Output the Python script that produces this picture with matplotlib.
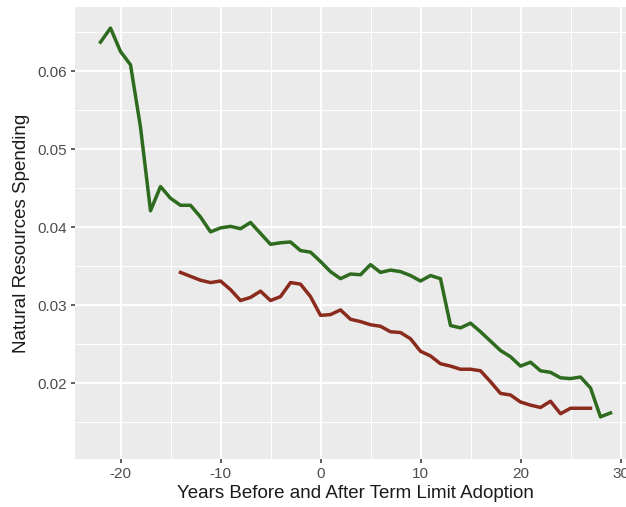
import matplotlib
matplotlib.use("Agg")
import matplotlib.pyplot as plt
from matplotlib.ticker import MultipleLocator

plt.rcParams['font.family'] = ['Liberation Sans', 'DejaVu Sans']
plt.rcParams['axes.unicode_minus'] = False

green_years = list(range(-22, 30))
green_vals = [0.0637, 0.0655, 0.0625, 0.0608, 0.0528, 0.0421, 0.0452, 0.0437, 0.0428, 0.0428,
              0.0413, 0.0394, 0.0399, 0.0401, 0.0398, 0.0406, 0.0392, 0.0378, 0.0380, 0.0381,
              0.0370, 0.0368, 0.0356, 0.0343, 0.0334, 0.0340, 0.0339, 0.0352, 0.0342, 0.0345,
              0.0343, 0.0338, 0.0331, 0.0338, 0.0334, 0.0274, 0.0271, 0.0277, 0.0266, 0.0254,
              0.0242, 0.0234, 0.0222, 0.0227, 0.0216, 0.0214, 0.0207, 0.0206, 0.0208, 0.0194,
              0.0157, 0.0162]

red_years = list(range(-14, 28))
red_vals = [0.0342, 0.0337, 0.0332, 0.0329, 0.0331, 0.0320, 0.0306, 0.0310, 0.0318, 0.0306,
            0.0311, 0.0329, 0.0327, 0.0311, 0.0287, 0.0288, 0.0294, 0.0282, 0.0279, 0.0275,
            0.0273, 0.0266, 0.0265, 0.0257, 0.0241, 0.0235, 0.0225, 0.0222, 0.0218, 0.0218,
            0.0216, 0.0202, 0.0187, 0.0185, 0.0176, 0.0172, 0.0169, 0.0177, 0.0161, 0.0168,
            0.0168, 0.0168]

x_ticks = [-20, -10, 0, 10, 20, 30]
y_ticks = [0.02, 0.03, 0.04, 0.05, 0.06]

W, H = 626, 507
fig = plt.figure(figsize=(W / 100, H / 100), dpi=100)
left, right, top, bottom = 75, 636, 7, 459
ax = fig.add_axes([left / W, (H - bottom) / H, (right - left) / W, (bottom - top) / H])
ax.set_facecolor('#EBEBEB')
for s in ax.spines.values():
    s.set_visible(False)

ax.set_xlim(-24.55, 31.55)
ax.set_ylim(0.0103, 0.0682)
ax.set_xticks(x_ticks)
ax.set_xticklabels([str(v) for v in x_ticks])
ax.set_yticks(y_ticks)
ax.set_yticklabels([f"{v:.2f}" for v in y_ticks])
ax.xaxis.set_minor_locator(MultipleLocator(5))
ax.yaxis.set_minor_locator(MultipleLocator(0.005))
ax.grid(which='major', color='white', linewidth=1.4)
ax.grid(which='minor', color='white', linewidth=0.7)
ax.set_axisbelow(True)
ax.tick_params(which='major', length=3, width=1.1, color='#333333', labelcolor='#4D4D4D', labelsize=11, pad=3)
ax.tick_params(which='minor', length=0)

ax.plot(green_years, green_vals, color='#2E6B1F', linewidth=2.5, solid_joinstyle='round')
ax.plot(red_years, red_vals, color='#8A2B1E', linewidth=2.5, solid_joinstyle='round')

ax.set_xlabel('Years Before and After Term Limit Adoption', fontsize=13.5, color='#1A1A1A', labelpad=3)
ax.set_ylabel('Natural Resources Spending', fontsize=13.5, color='#1A1A1A', labelpad=5)

fig.savefig('out.png', dpi=100)
